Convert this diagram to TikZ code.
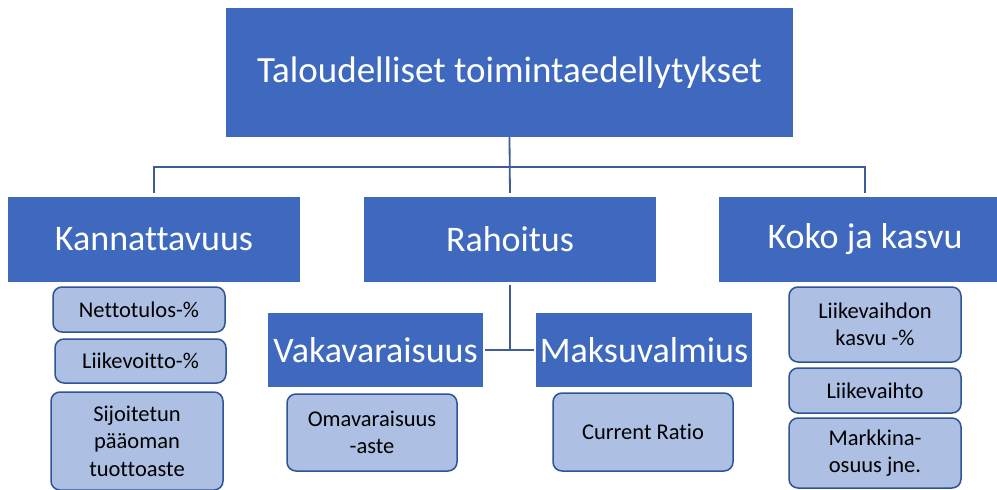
\documentclass[tikz,border=0pt]{standalone}
\usepackage{fontspec}
\setmainfont[Ligatures=CommonOff]{Carlito}
\definecolor{dblue}{HTML}{3E69BE}
\definecolor{lblue}{HTML}{ADC0E3}
\definecolor{bord}{HTML}{2F5496}
\definecolor{conn}{HTML}{3D5C99}
\begin{document}
\begin{tikzpicture}[x=1pt,y=-1pt,
  bigbox/.style={fill=dblue,draw=none,text=white,inner sep=0pt,
    font=\fontsize{36}{42}\selectfont},
  smallbox/.style={fill=lblue,draw=bord,line width=1.5pt,rounded corners=9pt,
    inner sep=0pt,align=center,text=black,font=\fontsize{22.5}{27.5}\selectfont},
  conline/.style={draw=conn,line width=1.8pt}]
\useasboundingbox (0,0) rectangle (997,490);
\fill[white] (0,0) rectangle (997,490);
% main boxes
\node[bigbox,minimum width=567pt,minimum height=129pt,font=\fontsize{37}{42}\selectfont] (top) at (509.5,72.5) {Taloudelliset toimintaedellytykset};
\node[bigbox,minimum width=292pt,minimum height=85pt] (kan) at (154,239.5) {Kannattavuus};
\node[bigbox,minimum width=292pt,minimum height=85pt] (rah) at (510,239.5) {Rahoitus};
\node[bigbox,minimum width=292pt,minimum height=85pt] (koko) at (865,239.5) {Koko ja kasvu};
\node[bigbox,minimum width=215pt,minimum height=74pt] (vak) at (375.5,350) {Vakavaraisuus};
\node[bigbox,minimum width=216pt,minimum height=74pt] (mak) at (644,350) {Maksuvalmius};
% small boxes
\node[smallbox,minimum width=172pt,minimum height=45pt] (net) at (139,309.5) {Nettotulos-\%};
\node[smallbox,minimum width=171pt,minimum height=44pt] (lii) at (140.5,361) {Liikevoitto-\%};
\node[smallbox,minimum width=172pt,minimum height=98pt] (sij) at (137,441) {Sijoitetun\\pääoman\\tuottoaste};
\node[smallbox,minimum width=170pt,minimum height=77pt] (oma) at (372,432.5) {Omavaraisuus\\-aste};
\node[smallbox,minimum width=180pt,minimum height=78pt] (cur) at (643,432) {Current Ratio};
\node[smallbox,minimum width=172pt,minimum height=75pt] (lkas) at (875,324.5) {Liikevaihdon\\kasvu -\%};
\node[smallbox,minimum width=172pt,minimum height=45pt] (lvh) at (875,390.5) {Liikevaihto};
\node[smallbox,minimum width=172pt,minimum height=70pt] (mar) at (875,453) {Markkina-\\osuus jne.};
% connectors
\coordinate (bus) at (510,167);
\coordinate (mid) at (510,350);
\draw[conline,shorten >=4pt] (top.south) -- (rah.north);
\draw[conline,shorten >=4pt,shorten <=4pt] (kan.north) |- (bus) -| (koko.north);
\draw[conline,shorten <=3pt] (rah.south) -- (mid);
\draw[conline,shorten <=2pt,shorten >=2pt] (vak.east) -- (mak.west);
\end{tikzpicture}
\end{document}
